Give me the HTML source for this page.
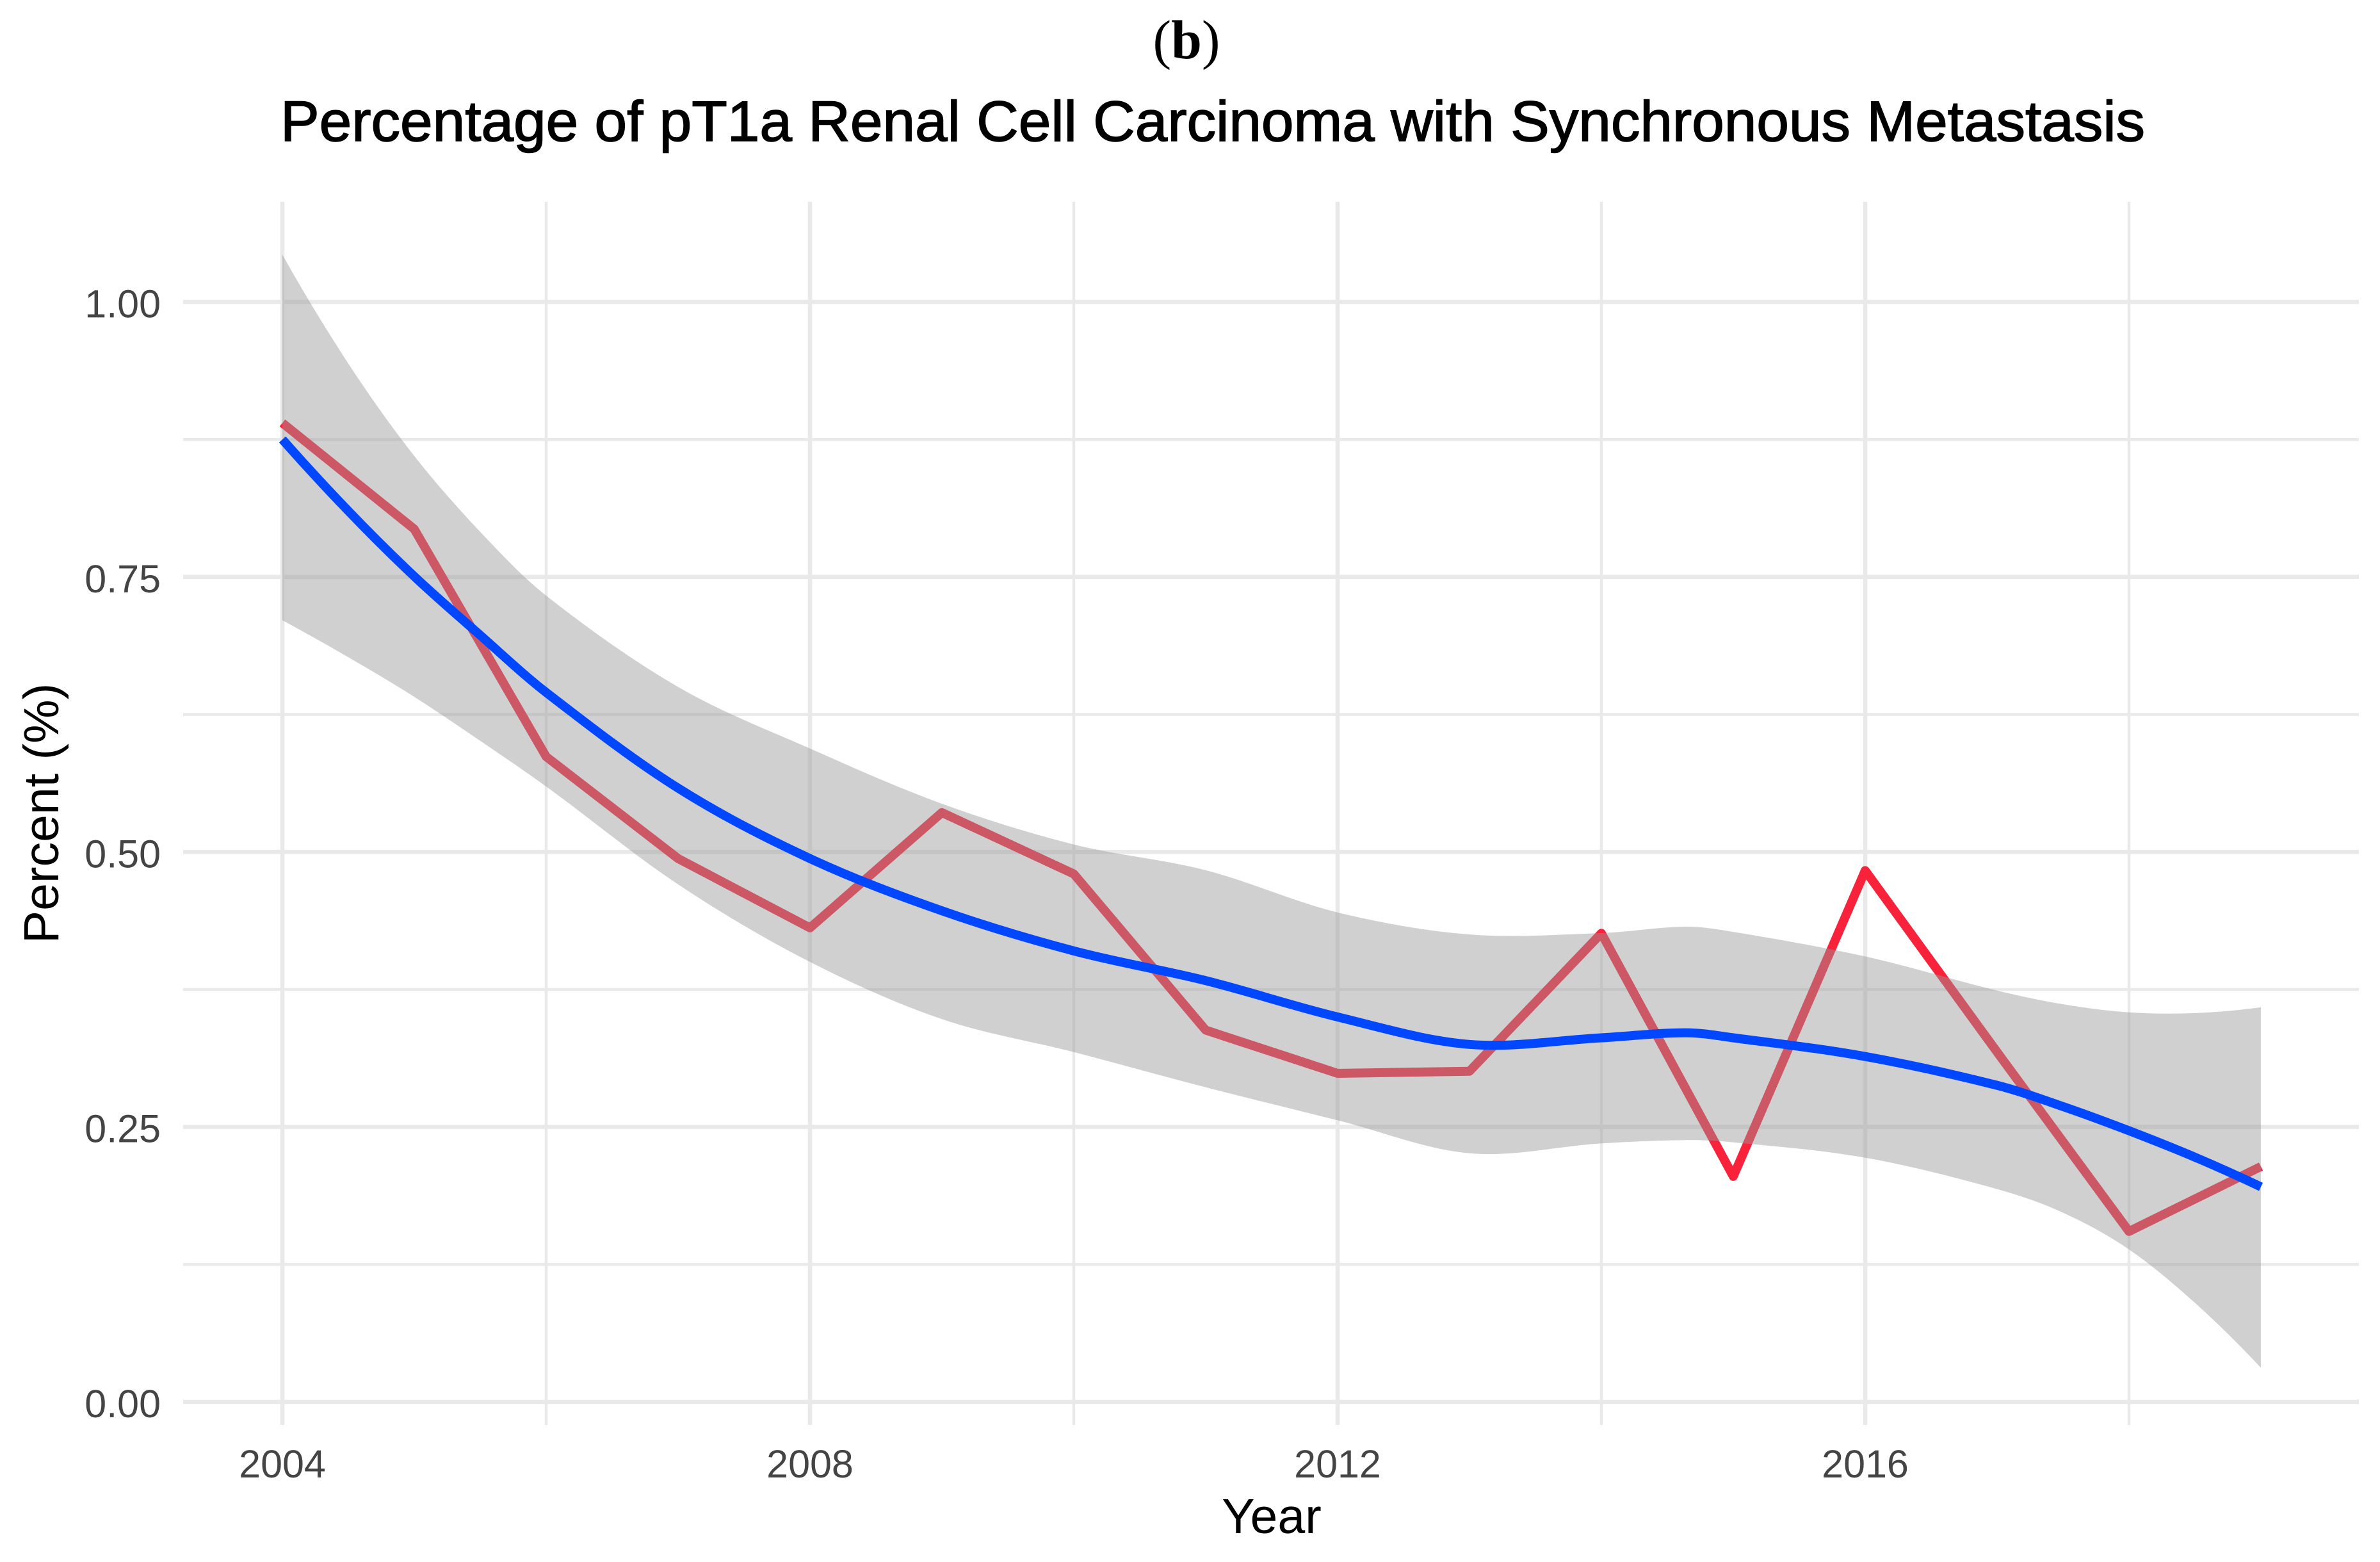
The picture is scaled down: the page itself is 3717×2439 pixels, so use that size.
<!DOCTYPE html>
<html lang="en">
<head>
<meta charset="utf-8">
<title>Percentage of pT1a Renal Cell Carcinoma with Synchronous Metastasis</title>
<style>
  html, body { margin: 0; padding: 0; background: #ffffff; }
  svg { display: block; }
</style>
</head>
<body>
<svg id="chart" xmlns="http://www.w3.org/2000/svg" width="3717" height="2439" viewBox="0 0 3717 2439">
  <rect x="0" y="0" width="3717" height="2439" fill="#ffffff"/>
  <text x="1853" y="91" text-anchor="middle" font-family="'Liberation Serif', serif" font-size="86" fill="#000">(<tspan font-weight="bold">b</tspan>)</text>
  <text x="438" y="220" textLength="2912" lengthAdjust="spacingAndGlyphs" font-family="'Liberation Sans', sans-serif" font-size="89" fill="#000" stroke="#000" stroke-width="1.5">Percentage of pT1a Renal Cell Carcinoma with Synchronous Metastasis</text>
  <g id="grid"></g>
  <g id="marks"></g>
  <g id="ticks"></g>
  <text x="1986" y="2394" text-anchor="middle" font-family="'Liberation Sans', sans-serif" font-size="77" fill="#000">Year</text>
  <text transform="translate(91 1270) rotate(-90)" text-anchor="middle" font-family="'Liberation Sans', sans-serif" font-size="77" fill="#000">Percent (%)</text>
</svg>
<script>
const years = [2004, 2005, 2006, 2007, 2008, 2009, 2010, 2011, 2012, 2013, 2014, 2015, 2016, 2017, 2018, 2019];
const percentValues = [0.89, 0.7935, 0.5866, 0.494, 0.431, 0.5358, 0.48, 0.338, 0.2987, 0.3006, 0.426, 0.205, 0.483, 0.318, 0.155, 0.214];

const smoothYears = [2004, 2004.5, 2005, 2005.5, 2006, 2007, 2008, 2009, 2010, 2011, 2012, 2013, 2014, 2014.64, 2015, 2016, 2017, 2017.5, 2018, 2018.5, 2019];
const fitValues = [0.875, 0.81, 0.7505, 0.697, 0.645, 0.558, 0.494, 0.4465, 0.41, 0.383, 0.35, 0.325, 0.331, 0.3356, 0.331, 0.314, 0.2878, 0.2685, 0.2465, 0.2225, 0.1955];
const upperValues = [1.043, 0.944, 0.86, 0.791, 0.733, 0.65, 0.594, 0.5438, 0.5068, 0.4834, 0.445, 0.425, 0.4262, 0.432, 0.4273, 0.405, 0.374, 0.3615, 0.3542, 0.3535, 0.3587];
const lowerValues = [0.7106, 0.677, 0.641, 0.601, 0.5595, 0.4705, 0.4, 0.348, 0.318, 0.286, 0.256, 0.226, 0.235, 0.238, 0.236, 0.222, 0.1935, 0.172, 0.1386, 0.09, 0.031];

const yMajorTicks = [0, 0.25, 0.5, 0.75, 1];
const yMinorTicks = [0.125, 0.375, 0.625, 0.875];
const yTickLabels = ['0.00', '0.25', '0.50', '0.75', '1.00'];
const xMajorTicks = [2004, 2008, 2012, 2016];
const xMinorTicks = [2006, 2010, 2014, 2018];
const xTickLabels = ['2004', '2008', '2012', '2016'];

const NS = 'http://www.w3.org/2000/svg';
const plotLeft = 286, plotRight = 3684, plotTop = 315, plotBottom = 2225;

function xScale(year) { return 441 + 206 * (year - 2004); }
function yScale(value) { return 2189 - 1717.5 * value; }

function secant(points, i) {
  return (points[i + 1][1] - points[i][1]) / (points[i + 1][0] - points[i][0]);
}

function tangent(points, i) {
  const last = points.length - 1;
  if (i === 0) return 2 * secant(points, 0) - tangent(points, 1);
  if (i === last) return 2 * secant(points, last - 1) - tangent(points, last - 1);
  return (points[i + 1][1] - points[i - 1][1]) / (points[i + 1][0] - points[i - 1][0]);
}

function smoothSegments(points) {
  let d = '';
  for (let i = 0; i < points.length - 1; i++) {
    const p1 = points[i];
    const p2 = points[i + 1];
    const dx = p2[0] - p1[0];
    const c1x = p1[0] + dx / 3;
    const c1y = p1[1] + tangent(points, i) * dx / 3;
    const c2x = p2[0] - dx / 3;
    const c2y = p2[1] - tangent(points, i + 1) * dx / 3;
    d += ' C' + c1x.toFixed(1) + ' ' + c1y.toFixed(1) + ' ' + c2x.toFixed(1) + ' ' + c2y.toFixed(1) + ' ' + p2[0].toFixed(1) + ' ' + p2[1].toFixed(1);
  }
  return d;
}

function reverseSegments(points) {
  let d = '';
  for (let i = points.length - 1; i > 0; i--) {
    const p1 = points[i];
    const p2 = points[i - 1];
    const dx = p1[0] - p2[0];
    const c1x = p1[0] - dx / 3;
    const c1y = p1[1] - tangent(points, i) * dx / 3;
    const c2x = p2[0] + dx / 3;
    const c2y = p2[1] + tangent(points, i - 1) * dx / 3;
    d += ' C' + c1x.toFixed(1) + ' ' + c1y.toFixed(1) + ' ' + c2x.toFixed(1) + ' ' + c2y.toFixed(1) + ' ' + p2[0].toFixed(1) + ' ' + p2[1].toFixed(1);
  }
  return d;
}

function toPoints(xs, vs) {
  return xs.map(function (x, i) { return [xScale(x), yScale(vs[i])]; });
}

const grid = document.getElementById('grid');
const marks = document.getElementById('marks');
const ticks = document.getElementById('ticks');

function gridLine(x1, y1, x2, y2, width) {
  const line = document.createElementNS(NS, 'line');
  line.setAttribute('x1', x1);
  line.setAttribute('y1', y1);
  line.setAttribute('x2', x2);
  line.setAttribute('y2', y2);
  line.setAttribute('stroke', '#e9e9e9');
  line.setAttribute('stroke-width', width);
  grid.appendChild(line);
  return line;
}

yMinorTicks.forEach(function (v) {
  const l = gridLine(plotLeft, yScale(v), plotRight, yScale(v), 4.5);
  
  
});
xMinorTicks.forEach(function (v) {
  const l = gridLine(xScale(v), plotTop, xScale(v), plotBottom, 4.5);
  
  
});
yMajorTicks.forEach(function (v) {
  const l = gridLine(plotLeft, yScale(v), plotRight, yScale(v), 6.5);
  
  
});
xMajorTicks.forEach(function (v) {
  const l = gridLine(xScale(v), plotTop, xScale(v), plotBottom, 6.5);
  
  
});

const observed = document.createElementNS(NS, 'polyline');


observed.setAttribute('points', toPoints(years, percentValues).map(function (p) { return p[0].toFixed(1) + ',' + p[1].toFixed(1); }).join(' '));
observed.setAttribute('fill', 'none');
observed.setAttribute('stroke', '#f8223a');
observed.setAttribute('stroke-width', '14');
observed.setAttribute('stroke-linejoin', 'round');
marks.appendChild(observed);

const upperPts = toPoints(smoothYears, upperValues);
const lowerPts = toPoints(smoothYears, lowerValues);
const lowerEnd = lowerPts[lowerPts.length - 1];
const ribbon = document.createElementNS(NS, 'path');


ribbon.setAttribute('d', 'M' + upperPts[0][0] + ' ' + upperPts[0][1] + smoothSegments(upperPts) + ' L' + lowerEnd[0] + ' ' + lowerEnd[1] + reverseSegments(lowerPts) + ' Z');
ribbon.setAttribute('fill', '#999999');
ribbon.setAttribute('fill-opacity', '0.46');
marks.appendChild(ribbon);

const fitPts = toPoints(smoothYears, fitValues);
const fit = document.createElementNS(NS, 'path');


fit.setAttribute('d', 'M' + fitPts[0][0] + ' ' + fitPts[0][1] + smoothSegments(fitPts));
fit.setAttribute('fill', 'none');
fit.setAttribute('stroke', '#0047ff');
fit.setAttribute('stroke-width', '14');
marks.appendChild(fit);

function tickText(x, y, anchor, str) {
  const t = document.createElementNS(NS, 'text');
  t.setAttribute('x', x);
  t.setAttribute('y', y);
  t.setAttribute('text-anchor', anchor);
  t.setAttribute('font-family', "'Liberation Sans', sans-serif");
  t.setAttribute('font-size', '61');
  t.setAttribute('fill', '#444444');
  t.textContent = str;
  ticks.appendChild(t);
  return t;
}

yMajorTicks.forEach(function (v, i) {
  const t = tickText(251, yScale(v) + 24, 'end', yTickLabels[i]);
  
  
});
xMajorTicks.forEach(function (v, i) {
  const t = tickText(xScale(v), 2307, 'middle', xTickLabels[i]);
  
  
});
</script>
</body>
</html>
